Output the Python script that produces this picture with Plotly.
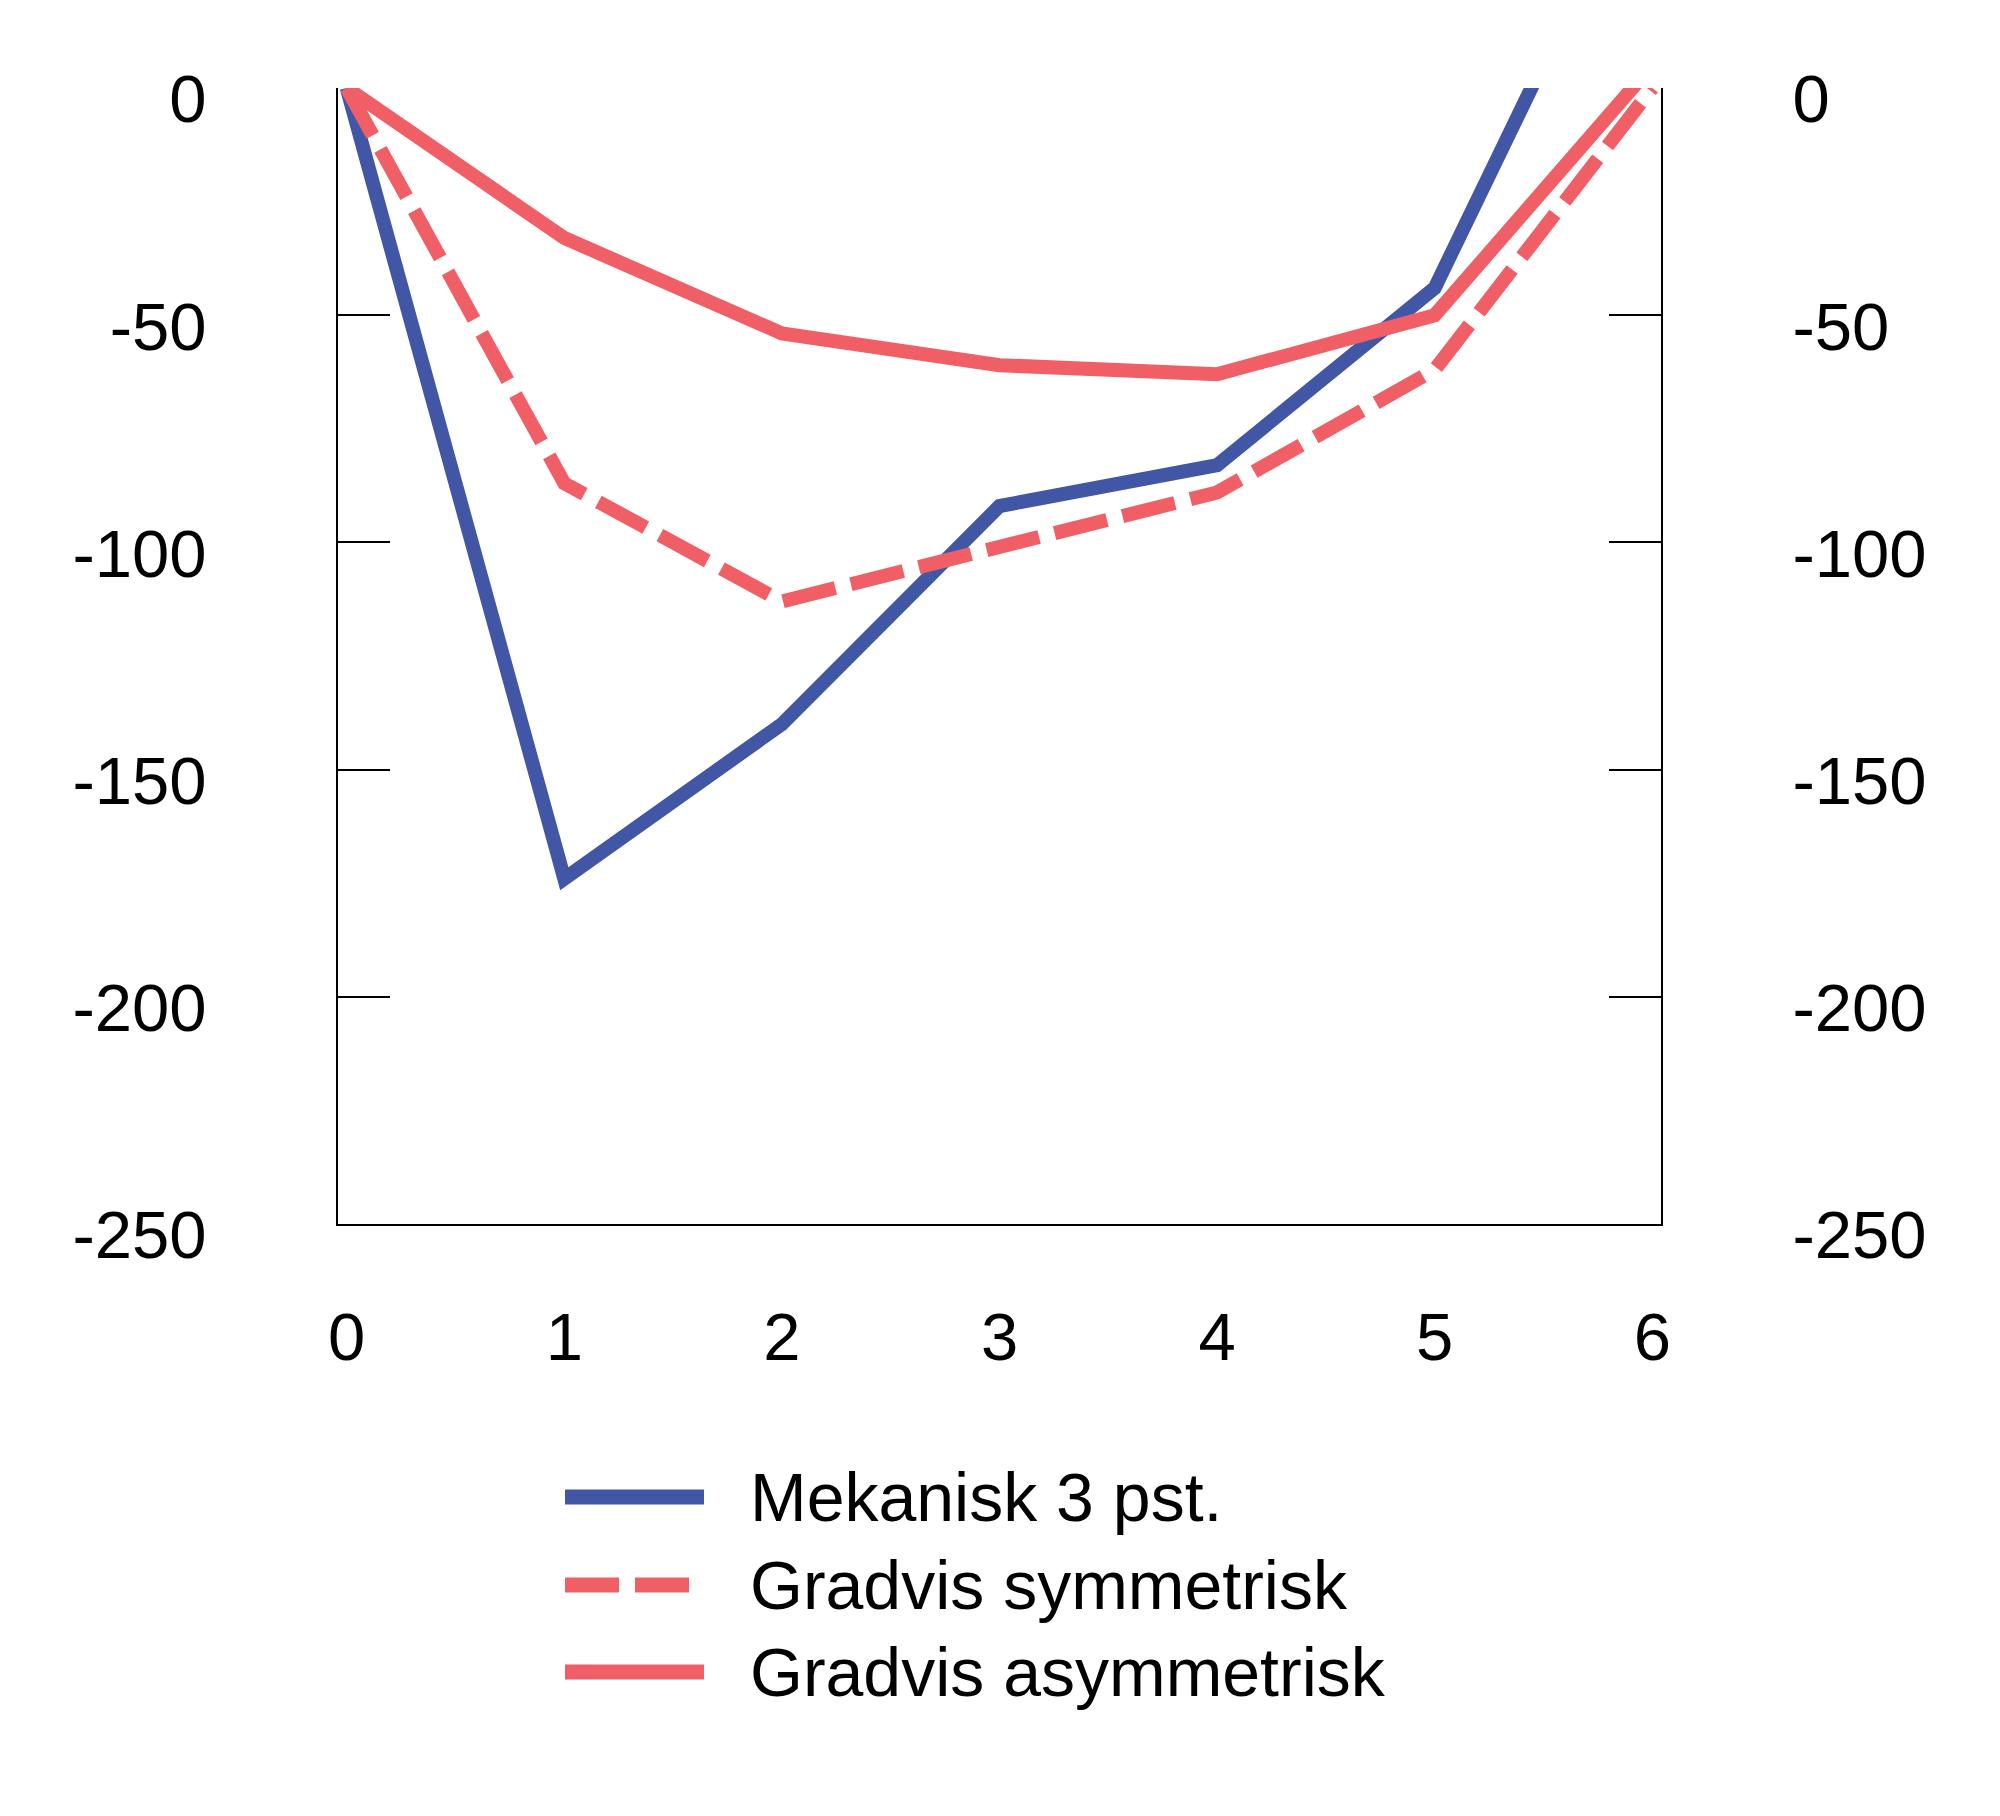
import plotly.graph_objects as go

years = [0, 1, 2, 3, 4, 5, 6]
mekanisk = [0, -174, -140, -92, -83, -44, 55]
gradvis_sym = [0, -87, -113, -101, -89, -62, 0]
gradvis_asym = [0, -33, -54, -61, -63, -50, 5]
y_ticks = [0, -50, -100, -150, -200, -250]
legend_names = ["Mekanisk 3 pst.", "Gradvis symmetrisk", "Gradvis asymmetrisk"]

BLUE = "#4256A6"
RED = "#F15F66"
FONT = "Liberation Sans, Arial, sans-serif"
LW = 14
DASH = "54px,16px"

fig = go.Figure()
fig.add_trace(go.Scatter(x=years, y=mekanisk, mode="lines", name=legend_names[0],
                         line=dict(color=BLUE, width=LW)))
fig.add_trace(go.Scatter(x=years, y=gradvis_sym, mode="lines", name=legend_names[1],
                         line=dict(color=RED, width=LW, dash=DASH)))
fig.add_trace(go.Scatter(x=years, y=gradvis_asym, mode="lines", name=legend_names[2],
                         line=dict(color=RED, width=LW)))
# dummy trace to activate right axis
fig.add_trace(go.Scatter(x=[0], y=[0], yaxis="y2", mode="markers",
                         marker=dict(opacity=0), showlegend=False, hoverinfo="skip"))

W, H = 2000, 1816
L, R, T, B = 338, 339, 88, 592
pw, ph = W - L - R, H - T - B

def px(xp):
    return (xp - L) / pw

def py(yp):
    return (H - B - yp) / ph

shapes = []
annotations = []
rows = [1497, 1585, 1672]
styles = [(BLUE, None), (RED, DASH), (RED, None)]
for name, yy, (col, dash) in zip(legend_names, rows, styles):
    line = dict(color=col, width=15)
    if dash:
        line["dash"] = dash
    shapes.append(dict(type="line", xref="paper", yref="paper",
                       x0=px(565), x1=px(704), y0=py(yy), y1=py(yy), line=line))
    annotations.append(dict(xref="paper", yref="paper", x=px(748), y=py(yy),
                            text=name, showarrow=False, xanchor="left", yanchor="middle",
                            font=dict(size=68, color="black", family=FONT)))

axis_common = dict(range=[-250, 0], tickvals=y_ticks, ticktext=[str(v) for v in y_ticks],
                   ticks="inside", ticklen=52, tickwidth=2, tickcolor="black",
                   showline=True, linecolor="black", linewidth=2,
                   showgrid=False, zeroline=False,
                   tickfont=dict(size=67, color="black", family=FONT),
                   ticklabelstandoff=116, ticklabelshift=11)

fig.update_layout(
    width=W, height=H,
    margin=dict(l=L, r=R, t=T, b=B),
    paper_bgcolor="white", plot_bgcolor="white",
    showlegend=False,
    xaxis=dict(range=[-0.04, 6.04], tickvals=years, ticktext=[str(v) for v in years],
               ticks="", showline=True, linecolor="black", linewidth=2,
               showgrid=False, zeroline=False,
               tickfont=dict(size=67, color="black", family=FONT),
               ticklabelstandoff=54),
    yaxis=dict(side="left", **axis_common),
    yaxis2=dict(side="right", overlaying="y", **axis_common),
    shapes=shapes,
    annotations=annotations,
)

fig.write_html("out.html")
